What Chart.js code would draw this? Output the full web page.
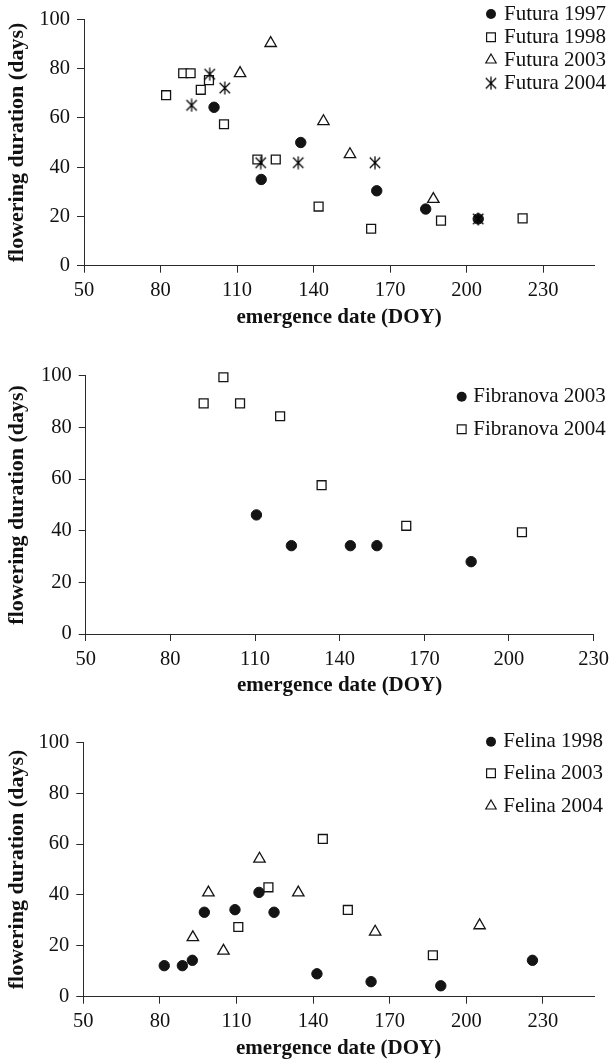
<!DOCTYPE html>
<html>
<head>
<meta charset="utf-8">
<script src="https://cdn.jsdelivr.net/npm/chart.js@4/dist/chart.umd.min.js"></script>
<style>
  html, body { margin: 0; padding: 0; background: #fff; }
  body { width: 615px; height: 1062px; position: relative; overflow: hidden; }
  canvas { position: absolute; left: 0; }
</style>
</head>
<body>
<canvas id="c1" width="615" height="345" style="top:0px"></canvas>
<canvas id="c2" width="615" height="360" style="top:345px"></canvas>
<canvas id="c3" width="615" height="357" style="top:705px"></canvas>
<script>
// ---------- data (emergence date DOY, flowering duration days) ----------
const xTickValues = [50, 80, 110, 140, 170, 200, 230];
const yTickValues = [0, 20, 40, 60, 80, 100];

const futura1997 = [[101,64.3],[119.5,35],[135,50],[164.8,30.4],[184,23],[204.6,19]];
const futura1998 = [[82.2,69.2],[88.9,78.1],[91.8,78.1],[95.8,71.4],[99,75.3],[104.9,57.4],[118,43.1],[125.2,43.1],[142,24],[162.6,15],[190,18.3],[222,19.2]];
const futura2003 = [[111.2,78.1],[123.2,90.3],[143.9,58.6],[154.3,45.2],[187,27.0]];
const futura2004 = [[92.2,65.1],[99.3,77.7],[105.2,72.1],[119.3,41.8],[134,41.8],[164.1,41.8],[204.6,19]];

const fibranova2003 = [[110.5,46.1],[122.9,34.2],[143.8,34.2],[153.2,34.2],[186.6,28]];
const fibranova2004 = [[91.8,89.3],[98.8,99.4],[104.7,89.3],[118.9,84.3],[133.6,57.6],[163.6,41.9],[204.6,39.4]];

const felina1998 = [[81.7,12.2],[88.8,12.2],[92.7,14.3],[97.4,33.2],[109.4,34.2],[118.8,41],[124.7,33.2],[141.5,9],[162.7,5.9],[190,4.3],[225.9,14.3]];
const felina2003 = [[110.7,27.4],[122.5,43],[143.8,62],[153.6,34.1],[186.9,16.3]];
const felina2004 = [[92.9,23.3],[99,40.9],[104.9,18.0],[119,54.2],[134.2,40.9],[164.3,25.5],[205.2,28.0]];

const labels1 = ['Futura 1997', 'Futura 1998', 'Futura 2003', 'Futura 2004'];
const labels2 = ['Fibranova 2003', 'Fibranova 2004'];
const labels3 = ['Felina 1998', 'Felina 2003', 'Felina 2004'];

const xTitle = 'emergence date (DOY)';
const yTitle = 'flowering duration (days)';

// ---------- styling ----------
const INK = '#141414';
const AXIS = '#2a2a2a';
const FONT = '"Liberation Serif", "Times New Roman", serif';

function makeAsterisk(size, lw) {
  const c = document.createElement('canvas');
  c.width = size; c.height = size;
  const g = c.getContext('2d');
  g.strokeStyle = '#000'; g.lineWidth = lw;
  const m = size / 2, a = size / 2 - 0.5, d = a * 0.8;
  g.beginPath();
  g.moveTo(m, m - a); g.lineTo(m, m + a);
  g.moveTo(m - d, m - d); g.lineTo(m + d, m + d);
  g.moveTo(m + d, m - d); g.lineTo(m - d, m + d);
  g.stroke();
  return c;
}
const asterisk = makeAsterisk(14, 1.25);

const STYLES = {
  circle: { pointStyle: 'circle', pointRadius: 5.2, pointBackgroundColor: INK, pointBorderColor: INK, pointBorderWidth: 1 },
  square: { pointStyle: 'rect', pointRadius: 6.3, pointBackgroundColor: '#fff', pointBorderColor: INK, pointBorderWidth: 1.3 },
  triangle: { pointStyle: 'triangle', pointRadius: 6.6, pointBackgroundColor: '#fff', pointBorderColor: INK, pointBorderWidth: 1.3 },
  asterisk: { pointStyle: asterisk, pointRadius: 6, pointBackgroundColor: INK, pointBorderColor: INK, pointBorderWidth: 1 }
};

function toXY(arr) { return arr.map(p => ({ x: p[0], y: p[1] })); }

function makeDatasets(seriesList, labelList, styleList) {
  const n = seriesList.length;
  return seriesList.map((s, i) => Object.assign({
    label: labelList[i],
    data: toXY(s),
    showLine: false,
    clip: false,
    order: n - i,
    markerKind: styleList[i]
  }, STYLES[styleList[i]]));
}

function drawMarker(ctx, kind, x, y) {
  ctx.save();
  ctx.strokeStyle = INK; ctx.fillStyle = INK;
  if (kind === 'circle') {
    ctx.beginPath(); ctx.arc(x, y, 5, 0, Math.PI * 2); ctx.fill();
  } else if (kind === 'square') {
    ctx.lineWidth = 1.2; ctx.fillStyle = '#fff';
    ctx.beginPath(); ctx.rect(x - 4.4, y - 4.4, 8.8, 8.8); ctx.fill(); ctx.stroke();
  } else if (kind === 'triangle') {
    ctx.lineWidth = 1.2; ctx.fillStyle = '#fff';
    const r = 6;
    ctx.beginPath();
    ctx.moveTo(x, y - r);
    ctx.lineTo(x + r * Math.sin(2 * Math.PI / 3), y - r * Math.cos(2 * Math.PI / 3));
    ctx.lineTo(x + r * Math.sin(4 * Math.PI / 3), y - r * Math.cos(4 * Math.PI / 3));
    ctx.closePath(); ctx.fill(); ctx.stroke();
  } else if (kind === 'asterisk') {
    ctx.drawImage(asterisk, x - asterisk.width / 2, y - asterisk.height / 2);
  }
  ctx.restore();
}

const sideLegend = {
  id: 'sideLegend',
  afterDatasetsDraw(chart, args, opts) {
    const ctx = chart.ctx;
    ctx.save();
    ctx.font = opts.fontSize + 'px ' + FONT;
    ctx.textBaseline = 'middle';
    ctx.textAlign = 'left';
    ctx.fillStyle = '#111';
    chart.data.datasets.forEach((ds, i) => {
      const y = opts.rows[i];
      drawMarker(ctx, ds.markerKind, opts.markerX, y);
      ctx.fillText(ds.label, opts.textX, y);
    });
    ctx.restore();
  }
};

function buildChart(id, datasets, geo) {
  return new Chart(document.getElementById(id), {
    type: 'scatter',
    data: { datasets },
    plugins: [sideLegend],
    options: {
      responsive: false,
      animation: false,
      events: [],
      devicePixelRatio: 1,
      layout: { padding: { top: geo.padTop, right: geo.padRight, bottom: geo.padBottom, left: 0 } },
      plugins: {
        legend: { display: false },
        tooltip: { enabled: false },
        sideLegend: { markerX: geo.markerX, textX: geo.textX, rows: geo.rows, fontSize: 21 }
      },
      scales: {
        x: {
          type: 'linear',
          min: 50, max: geo.xMax,
          afterBuildTicks: s => { s.ticks = xTickValues.map(v => ({ value: v })); },
          afterFit: s => { s.height = 64; },
          border: { display: true, color: AXIS, width: 1 },
          grid: { display: true, drawOnChartArea: false, drawTicks: true, tickLength: 7, color: AXIS, tickColor: AXIS, tickWidth: 1 },
          ticks: { padding: 6, color: '#111', font: { family: FONT, size: 20.5 }, maxRotation: 0, autoSkip: false },
          title: { display: true, text: xTitle, color: '#111', padding: { top: 0, bottom: 0 }, font: { family: FONT, size: 21, weight: 'bold' } }
        },
        y: {
          type: 'linear',
          min: 0, max: 100,
          afterBuildTicks: s => { s.ticks = yTickValues.map(v => ({ value: v })); },
          afterFit: s => { s.width = geo.yWidth; },
          border: { display: true, color: AXIS, width: 1 },
          grid: { display: true, drawOnChartArea: false, drawTicks: true, tickLength: 7, color: AXIS, tickColor: AXIS, tickWidth: 1 },
          ticks: { padding: 7, color: '#111', font: { family: FONT, size: 20.5 } },
          title: { display: true, text: yTitle, color: '#111', padding: { top: 3.8, bottom: 0 }, font: { family: FONT, size: 22, weight: 'bold' } }
        }
      }
    }
  });
}

buildChart('c1',
  makeDatasets([futura1997, futura1998, futura2003, futura2004], labels1, ['circle', 'square', 'triangle', 'asterisk']),
  { padTop: 14.7, padRight: 21, padBottom: 15.3, yWidth: 84, xMax: 250,
    markerX: 491, textX: 504, rows: [14, 37.3, 60, 83.3] });

buildChart('c2',
  makeDatasets([fibranova2003, fibranova2004], labels2, ['circle', 'square']),
  { padTop: 30.7, padRight: 19, padBottom: 7, yWidth: 85.7, xMax: 230,
    markerX: 461.7, textX: 473.3, rows: [396.7 - 345, 429.3 - 345] });

buildChart('c3',
  makeDatasets([felina1998, felina2003, felina2004], labels3, ['circle', 'square', 'triangle']),
  { padTop: 37.3, padRight: 21, padBottom: 1.3, yWidth: 83.3, xMax: 250,
    markerX: 491, textX: 503.3, rows: [741.7 - 705, 773.3 - 705, 806 - 705] });
</script>
</body>
</html>
